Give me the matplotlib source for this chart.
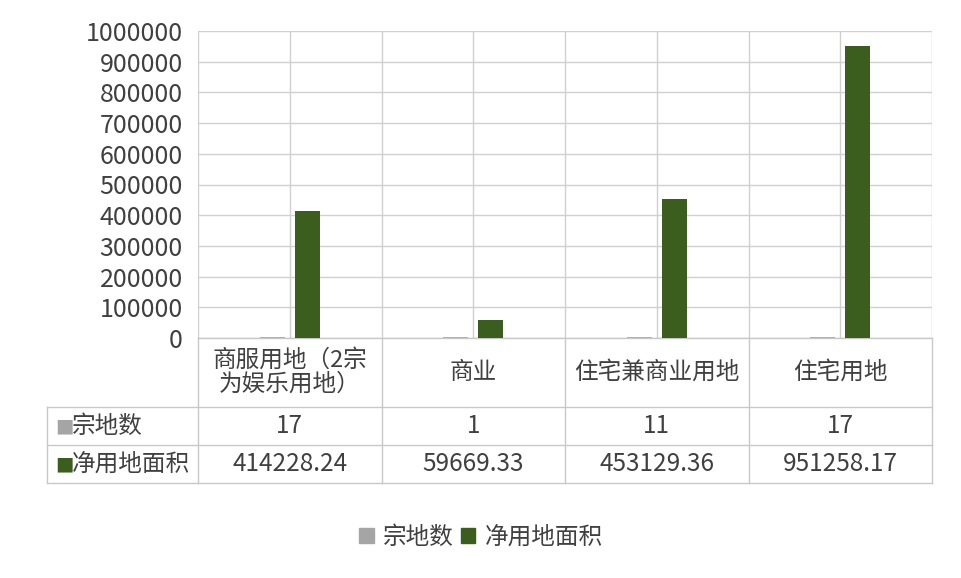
import numpy as np
import matplotlib.pyplot as plt
from matplotlib.patches import Patch

plt.rcParams['font.family'] = ['Noto Sans CJK SC', 'DejaVu Sans']

# 数据
categories = ['商服用地（2宗\n为娱乐用地）', '商业', '住宅兼商业用地', '住宅用地']
series_names = ['宗地数', '净用地面积']
parcel_counts = [17, 1, 11, 17]
net_areas = [414228.24, 59669.33, 453129.36, 951258.17]
yticks = np.arange(0, 1000001, 100000)

gray = '#A5A5A5'
green = '#3B5E1E'
text_c = '#404040'
line_c = '#D0D0D0'

fig = plt.figure(figsize=(9.62, 5.78), dpi=100)
ax = fig.add_axes([198/962, 1-338/578, (932-198)/962, (338-31)/578])

x = np.arange(len(categories))
w = 0.136
ax.bar(x - 0.095, parcel_counts, w, color=gray, edgecolor=gray, lw=1.2, zorder=3)
ax.bar(x + 0.095, net_areas, w, color=green, zorder=3)

ax.set_xlim(-0.5, len(categories) - 0.5)
ax.set_ylim(0, 1000000)
ax.set_yticks(yticks)
ax.set_yticklabels([str(v) for v in yticks])
ax.set_xticks([])
ax.tick_params(axis='y', length=0, pad=11, labelsize=18, labelcolor=text_c)
for s in ax.spines.values():
    s.set_visible(False)

# 网格线
for v in yticks:
    ax.axhline(v, color=line_c, lw=1, zorder=1)
for xv in np.arange(-0.5, len(categories), 0.5):
    ax.axvline(xv, color=line_c, lw=1, zorder=1)

# 数据表
tr = ax.get_xaxis_transform()
left = -1.323
rows_y = [0, -0.2248, -0.3485, -0.4723]
tc = '#C8C8C8'
ax.plot([-0.5, 3.5], [rows_y[0]] * 2, color=tc, lw=1, transform=tr, clip_on=False)
for ry in rows_y[1:]:
    ax.plot([left, 3.5], [ry, ry], color=tc, lw=1, transform=tr, clip_on=False)
for xv in np.arange(-0.5, len(categories) + 0.5, 1.0):
    ax.plot([xv, xv], [rows_y[0], rows_y[-1]], color=tc, lw=1, transform=tr, clip_on=False)
ax.plot([left, left], [rows_y[1], rows_y[-1]], color=tc, lw=1, transform=tr, clip_on=False)

for i, c in enumerate(categories):
    ax.text(i, (rows_y[0] + rows_y[1]) / 2, c, transform=tr, ha='center', va='center',
            fontsize=17, color=text_c, linespacing=1.05)
    ax.text(i, (rows_y[1] + rows_y[2]) / 2, str(parcel_counts[i]), transform=tr,
            ha='center', va='center', fontsize=17.5, color=text_c)
    ax.text(i, (rows_y[2] + rows_y[3]) / 2, f'{net_areas[i]:.2f}', transform=tr,
            ha='center', va='center', fontsize=17.5, color=text_c)

for k, (name, col) in enumerate(zip(series_names, [gray, green])):
    yc = (rows_y[k + 1] + rows_y[k + 2]) / 2
    ax.text(left + 0.045, yc, '■', transform=tr, ha='left', va='center',
            fontsize=14, color=col, family='DejaVu Sans')
    ax.text(left + 0.135, yc, name, transform=tr, ha='left', va='center',
            fontsize=17, color=text_c)

# 图例
handles = [Patch(color=gray), Patch(color=green)]
fig.legend(handles, series_names, loc='center', bbox_to_anchor=(0.5, 1 - 537/578),
           ncol=2, frameon=False, fontsize=17, handlelength=0.6, handleheight=0.6,
           handletextpad=0.4, columnspacing=0.3, labelcolor=text_c)

fig.savefig('out.png', dpi=100)
